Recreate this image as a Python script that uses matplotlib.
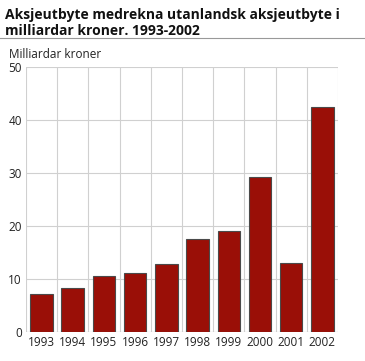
import matplotlib
matplotlib.use("Agg")
import matplotlib.pyplot as plt

years = ["1993", "1994", "1995", "1996", "1997", "1998", "1999", "2000", "2001", "2002"]
values = [7.2, 8.3, 10.6, 11.2, 12.8, 17.6, 19.0, 29.2, 13.1, 42.5]
yticks = [0, 10, 20, 30, 40, 50]

plt.rcParams['font.family'] = ['Open Sans', 'DejaVu Sans']

fig = plt.figure(figsize=(3.65, 3.61), dpi=100)
ax = fig.add_axes([0.071, 0.080, 0.855, 0.734])

x = list(range(len(years)))
ax.bar(x, values, width=0.72, color="#9a0f07", edgecolor="#4a4a4a", linewidth=0.8, zorder=3)

ax.set_xlim(-0.5, len(years) - 0.5)
ax.set_ylim(0, 50)
ax.set_yticks(yticks)
ax.set_yticklabels([str(t) for t in yticks], fontsize=8.5, color="#222222")
ax.set_xticks(x)
ax.set_xticklabels(years, fontsize=8.5, color="#222222")
ax.tick_params(length=0, pad=3)

# grid
ax.yaxis.grid(True, color="#d0d0d0", linewidth=0.8, zorder=0)
ax.set_xticks([i + 0.5 for i in range(-1, len(years))], minor=True)
ax.xaxis.grid(True, which="minor", color="#d0d0d0", linewidth=0.8, zorder=0)
ax.tick_params(which="minor", length=0)
for s in ax.spines.values():
    s.set_visible(False)
ax.axhline(0, color="#bbbbbb", linewidth=0.8, zorder=2)

fig.text(0.014, 0.978, "Aksjeutbyte medrekna utanlandsk aksjeutbyte i\nmilliardar kroner. 1993-2002",
         fontsize=10, fontweight="bold", va="top", ha="left", linespacing=1.15, color="#111111")
fig.add_artist(plt.Line2D([0, 1], [0.895, 0.895], color="#999999", linewidth=0.8))
fig.text(0.024, 0.868, "Milliardar kroner", fontsize=8.5, va="top", ha="left", color="#222222")

fig.savefig("out.png", dpi=100)
